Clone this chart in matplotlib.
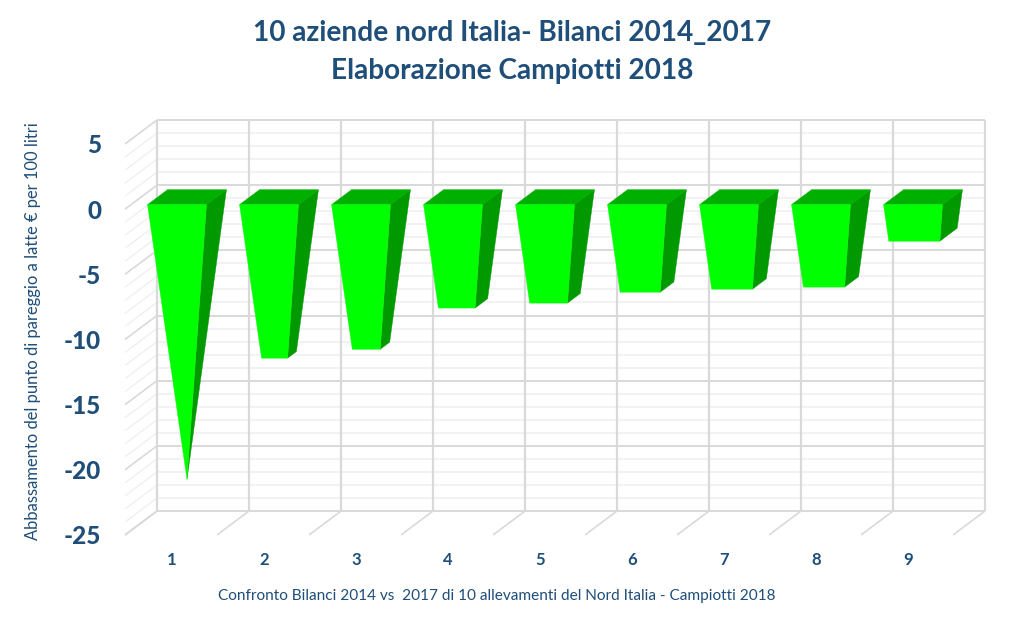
import matplotlib
matplotlib.use('Agg')
from matplotlib import pyplot as plt
import numpy as np

plt.rcParams['font.family'] = ['Lato', 'DejaVu Sans']

categories = [1, 2, 3, 4, 5, 6, 7, 8, 9]
values = [-21.66, -12.1, -11.4, -8.15, -7.76, -6.9, -6.66, -6.5, -2.88]
y_major = [5, 0, -5, -10, -15, -20, -25]
y_minor = list(range(-25, 6))

title = '10 aziende nord Italia- Bilanci 2014_2017\nElaborazione Campiotti 2018'
ylabel = 'Abbassamento del punto di pareggio a latte € per 100 litri'
xlabel = 'Confronto Bilanci 2014 vs  2017 di 10 allevamenti del Nord Italia - Campiotti 2018'

navy = '#1f4e79'
W, H = 1023, 620
fig = plt.figure(figsize=(W/100, H/100), dpi=100)
ax = fig.add_axes([157/W, (H-511)/H, 828/W, 391/H])
ax.set_xlim(0.5, 9.5)
ax.set_ylim(-25, 5)
ax.axis('off')

# oblique depth: 0 = back wall, 1 = front edge of the floor
dx, dy = -32/92, -24/13.04
def proj(cat, val, depth=0.0):
    return cat + depth*dx, val + depth*dy

def seg(p, q, **kw):
    ax.plot([p[0], q[0]], [p[1], q[1]], clip_on=False, solid_capstyle='butt', **kw)

# grid, minor first
for v in y_minor:
    if v in y_major:
        continue
    seg(proj(0.5, v), proj(9.5, v), color='#f0f0f0', lw=1.2, zorder=1)
    seg(proj(0.5, v), proj(0.5, v, 1), color='#f0f0f0', lw=1.0, zorder=1)
for v in y_major:
    seg(proj(0.5, v), proj(9.5, v), color='#d9d9d9', lw=1.4, zorder=2)
    seg(proj(0.5, v), proj(0.5, v, 1), color='#d9d9d9', lw=1.2, zorder=2)
for c in np.arange(0.5, 10):
    seg(proj(c, 5), proj(c, -25), color='#d9d9d9', lw=1.6, zorder=2)
    seg(proj(c, -25), proj(c, -25, 1), color='#d9d9d9', lw=1.2, zorder=2)

# pyramids: square base at zero, narrowing to a point at the largest value
half_w = 0.32
mid = 0.5
half_d = 0.3125
vmax = abs(min(values))
for c, v in zip(categories, values):
    k = 1 - abs(v)/vmax
    def corner(sx, sd, val, scale):
        return proj(c + sx*half_w*scale, val, mid + sd*half_d*scale)
    fl, fr = corner(-1, 1, 0, 1), corner(1, 1, 0, 1)
    bl, br = corner(-1, -1, 0, 1), corner(1, -1, 0, 1)
    fl2, fr2 = corner(-1, 1, v, k), corner(1, 1, v, k)
    br2 = corner(1, -1, v, k)
    ax.fill(*zip(fr, br, br2, fr2), color='#009a00', lw=0.3, zorder=3, clip_on=False)
    ax.fill(*zip(fl, fr, br, bl), color='#00b000', lw=0.3, zorder=3, clip_on=False)
    ax.fill(*zip(fl, fr, fr2, fl2), color='#00ff00', lw=0.3, zorder=4, clip_on=False)

# tick labels sit on the front edge of the floor / side wall
for v in y_major:
    x, y = proj(0.5, v, 1)
    ax.annotate(str(v), (x, y), xytext=(-24, -2), textcoords='offset pixels',
                ha='right', va='center', fontsize=17.5, fontweight='black', color=navy,
                annotation_clip=False)
for c in categories:
    x, y = proj(c, -25, 1)
    ax.annotate(str(c), (x, y), xytext=(1, -25), textcoords='offset pixels',
                ha='center', va='center', fontsize=12, fontweight='bold', color=navy,
                annotation_clip=False)

fig.text(512/W, 1-52/H, title, ha='center', va='center', fontsize=20.2, fontweight='bold',
         color=navy, linespacing=1.58)
fig.text(33/W, 1-331/H, ylabel, rotation=90, ha='center', va='center', fontsize=11.9, color=navy)
fig.text(497/W, 1-596/H, xlabel, ha='center', va='center', fontsize=11.1, color=navy)

plt.savefig('out.png', dpi=100)
